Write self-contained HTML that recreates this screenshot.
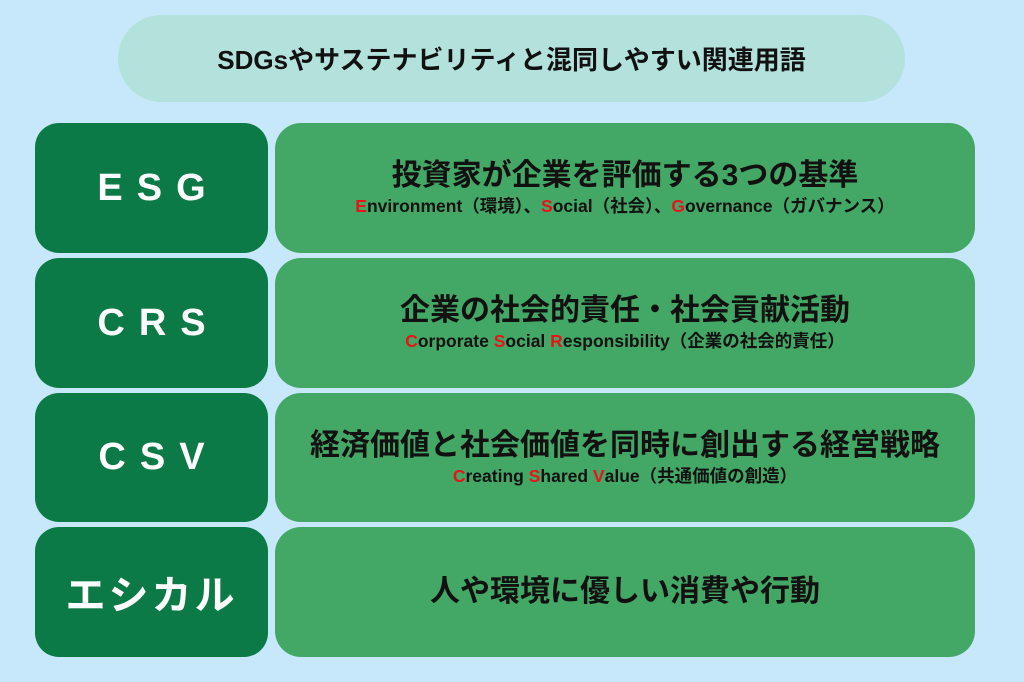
<!DOCTYPE html>
<html><head><meta charset="utf-8"><style>
body{margin:0;width:1024px;height:682px;background:#c6e8fa;font-family:"Liberation Sans","Noto Sans CJK JP",sans-serif;position:relative;overflow:hidden}
.t{position:absolute;left:118px;top:15px;width:787px;height:87px;border-radius:44px;background:#b3e1dc;display:flex;align-items:center;justify-content:center;font-weight:bold;font-size:26px;color:#111}
.l{position:absolute;left:35px;width:233px;border-radius:24px;background:#0c7a46;color:#fff;font-weight:bold;font-size:38px;display:flex;align-items:center;justify-content:center;letter-spacing:14px}
.r{position:absolute;left:275px;width:700px;border-radius:26px;background:#43a766;display:flex;flex-direction:column;align-items:center;justify-content:center;color:#111;font-weight:bold}
.m{font-size:30px;line-height:36px}
.s{font-size:17.5px;line-height:24px;margin-top:0px}
.s b{color:#e8141a}
</style></head><body>
<div class="t">SDGsやサステナビリティと混同しやすい関連用語</div>
<div class="l" style="top:123px;height:130px;padding-left:14px;box-sizing:border-box">ESG</div>
<div class="r" style="top:123px;height:130px"><div class="m">投資家が企業を評価する3つの基準</div><div class="s"><b>E</b>nvironment（環境）、<b>S</b>ocial（社会）、<b>G</b>overnance（ガバナンス）</div></div>
<div class="l" style="top:258px;height:130px;padding-left:14px;box-sizing:border-box">CRS</div>
<div class="r" style="top:258px;height:130px"><div class="m">企業の社会的責任・社会貢献活動</div><div class="s"><b>C</b>orporate <b>S</b>ocial <b>R</b>esponsibility（企業の社会的責任）</div></div>
<div class="l" style="top:393px;height:129px;padding-left:14px;box-sizing:border-box">CSV</div>
<div class="r" style="top:393px;height:129px"><div class="m">経済価値と社会価値を同時に創出する経営戦略</div><div class="s"><b>C</b>reating <b>S</b>hared <b>V</b>alue（共通価値の創造）</div></div>
<div class="l" style="top:527px;height:130px;letter-spacing:3px;font-size:40px">エシカル</div>
<div class="r" style="top:527px;height:130px"><div class="m">人や環境に優しい消費や行動</div></div>
</body></html>
